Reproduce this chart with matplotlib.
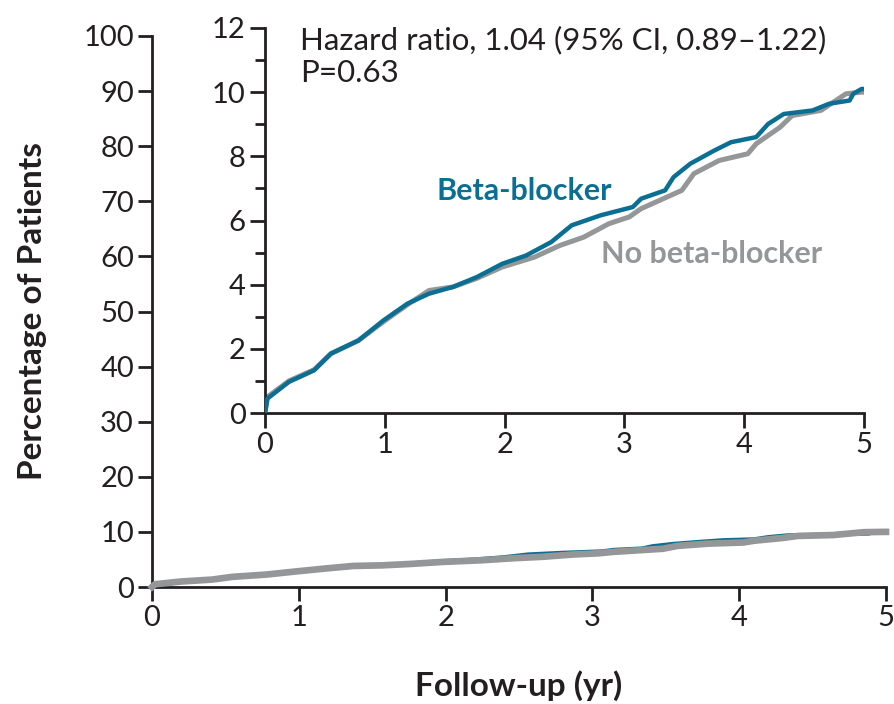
import matplotlib
matplotlib.use("Agg")
import matplotlib.pyplot as plt

plt.rcParams['font.family'] = ['Lato', 'DejaVu Sans']

# Data (cumulative percentage of patients)
bb_t = [0.0, 0.02, 0.2, 0.41, 0.55, 0.78, 0.99, 1.19, 1.37, 1.57, 1.77, 1.98, 2.18,
        2.39, 2.56, 2.80, 3.07, 3.14, 3.34, 3.41, 3.55, 3.75, 3.89, 4.10, 4.20,
        4.33, 4.57, 4.71, 4.88, 4.91, 4.98, 5.0]
bb_y = [0.0, 0.45, 0.97, 1.33, 1.85, 2.26, 2.89, 3.41, 3.72, 3.93, 4.24, 4.65, 4.91,
        5.33, 5.85, 6.16, 6.42, 6.68, 6.94, 7.35, 7.77, 8.18, 8.44, 8.60, 9.01,
        9.32, 9.43, 9.64, 9.74, 9.95, 10.1, 10.1]

nb_t = [0.0, 0.02, 0.2, 0.41, 0.55, 0.78, 0.99, 1.19, 1.37, 1.57, 1.77, 1.98, 2.25,
        2.46, 2.66, 2.87, 3.04, 3.14, 3.48, 3.58, 3.79, 4.03, 4.10, 4.30, 4.40,
        4.64, 4.85, 4.98, 5.0]
nb_y = [0.0, 0.5, 1.0, 1.35, 1.85, 2.26, 2.85, 3.38, 3.82, 3.93, 4.2, 4.55, 4.86,
        5.22, 5.48, 5.90, 6.11, 6.37, 6.94, 7.46, 7.87, 8.08, 8.39, 8.91, 9.27,
        9.43, 9.95, 10.0, 10.0]

main_xticks = [0, 1, 2, 3, 4, 5]
main_yticks = [0, 10, 20, 30, 40, 50, 60, 70, 80, 90, 100]
inset_yticks = [0, 2, 4, 6, 8, 10, 12]
inset_yminor = [1, 3, 5, 7, 9, 11]

hr_text = "Hazard ratio, 1.04 (95% CI, 0.89\u20131.22)"
p_text = "P=0.63"
label_bb = "Beta-blocker"
label_nb = "No beta-blocker"

TEAL = "#0b6f93"
GRAY = "#959698"
INK = "#231f20"

W, H = 895, 704
fig = plt.figure(figsize=(W / 100, H / 100), dpi=100)

def ax_rect(l, r, b, t):
    return [l / W, 1 - b / H, (r - l) / W, (b - t) / H]

# Main axes
ax = fig.add_axes(ax_rect(152, 886, 587, 36))
ax.plot(bb_t, bb_y, color=TEAL, lw=3.4, zorder=3, clip_on=False)
ax.plot(nb_t, nb_y, color=GRAY, lw=4.8, zorder=4, clip_on=False)
ax.set_xlim(0, 5)
ax.set_ylim(0, 100)
ax.set_xticks(main_xticks)
ax.set_yticks(main_yticks)
for s in ['top', 'right']:
    ax.spines[s].set_visible(False)
for s in ['left', 'bottom']:
    ax.spines[s].set_linewidth(2.0)
    ax.spines[s].set_color(INK)
ax.tick_params(direction='out', length=10, width=2.0, color=INK,
               labelsize=21, labelcolor=INK, pad=3)
ax.set_xlabel("Follow-up (yr)", fontsize=24, fontweight='bold', color=INK, labelpad=28)
ax.set_ylabel("Percentage of Patients", fontsize=24, fontweight='bold', color=INK, labelpad=26)

# Inset axes
ins = fig.add_axes(ax_rect(265, 864, 413, 28))
ins.set_facecolor('white')
ins.plot(bb_t, bb_y, color=TEAL, lw=3.2, zorder=3)
ins.plot(nb_t, nb_y, color=GRAY, lw=3.6, zorder=2)
ins.set_xlim(0, 5)
ins.set_ylim(0, 12)
ins.set_xticks(main_xticks)
ins.set_yticks(inset_yticks)
ins.set_yticks(inset_yminor, minor=True)
for s in ['top', 'right']:
    ins.spines[s].set_visible(False)
for s in ['left', 'bottom']:
    ins.spines[s].set_linewidth(2.0)
    ins.spines[s].set_color(INK)
ins.tick_params(which='major', direction='out', length=11, width=2.0, color=INK,
                labelsize=21, labelcolor=INK, pad=3)
ins.tick_params(which='minor', axis='y', direction='out', length=7, width=2.0, color=INK)

ins.text(300 / W, 1 - 40 / H, hr_text, transform=fig.transFigure, fontsize=22.5,
         color=INK, ha='left', va='center')
ins.text(300 / W, 1 - 73 / H, p_text, transform=fig.transFigure, fontsize=22.5,
         color=INK, ha='left', va='center')
ins.text(524 / W, 1 - 191 / H, label_bb, transform=fig.transFigure, fontsize=22,
         color=TEAL, fontweight='bold', ha='center', va='center')
ins.text(712 / W, 1 - 254 / H, label_nb, transform=fig.transFigure, fontsize=22,
         color=GRAY, fontweight='bold', ha='center', va='center')

fig.savefig("out.png", dpi=100)
